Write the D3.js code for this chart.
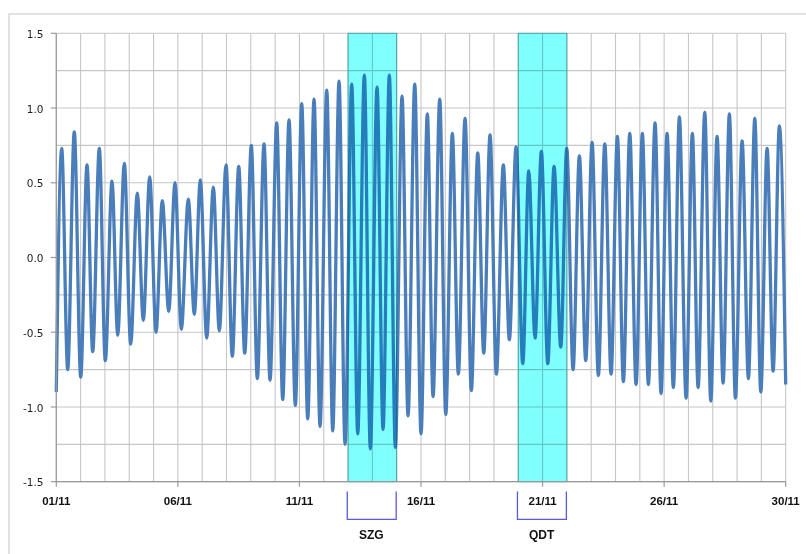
<!DOCTYPE html>
<html>
<head>
<meta charset="utf-8">
<script src="https://cdn.jsdelivr.net/npm/d3@7"></script>
<style>
  html, body { margin: 0; padding: 0; background: #ffffff; }
  svg { display: block; }
</style>
</head>
<body>
<svg id="chart" width="806" height="554"></svg>
<script>
// Water level (m) over November: days are counted from 01/11 00:00.
const xTickDays = [0, 5, 10, 15, 20, 25, 30];
const xTickLabels = ["01/11", "06/11", "11/11", "16/11", "21/11", "26/11", "30/11"];
const yTickValues = [-1.5, -1.0, -0.5, 0.0, 0.5, 1.0, 1.5];
const yTickLabels = ["-1.5", "-1.0", "-0.5", "0.0", "0.5", "1.0", "1.5"];

// Series start and end readings
const edgeDays = [0, 30];
const edgeLevels = [-0.90, -0.85];

// High waters
const highDays = [
  0.222, 0.740, 1.263, 1.769, 2.291, 2.797, 3.332, 3.842, 4.360, 4.883,
  5.430, 5.924, 6.458, 6.981, 7.503, 8.021, 8.544, 9.066, 9.572, 10.095,
  10.601, 11.123, 11.629, 12.151, 12.670, 13.192, 13.698, 14.220, 14.743, 15.261,
  15.771, 16.289, 16.812, 17.334, 17.840, 18.387, 18.910, 19.432, 19.951, 20.473,
  20.995, 21.514, 22.036, 22.559, 23.077, 23.587, 24.105, 24.628, 25.121, 25.627,
  26.162, 26.672, 27.178, 27.684, 28.207, 28.729, 29.235, 29.741
];
const highLevels = [
  0.73, 0.84, 0.62, 0.73, 0.51, 0.63, 0.43, 0.54, 0.38, 0.50,
  0.39, 0.52, 0.47, 0.62, 0.61, 0.75, 0.76, 0.90, 0.92, 1.03,
  1.06, 1.12, 1.18, 1.16, 1.22, 1.14, 1.22, 1.08, 1.16, 0.96,
  1.06, 0.83, 0.93, 0.70, 0.82, 0.62, 0.74, 0.58, 0.71, 0.61,
  0.73, 0.68, 0.77, 0.76, 0.81, 0.83, 0.83, 0.90, 0.83, 0.94,
  0.83, 0.97, 0.81, 0.96, 0.78, 0.93, 0.73, 0.88
];

// Low waters
const lowDays = [
  0.469, 1.004, 1.497, 2.016, 2.526, 3.060, 3.579, 4.101, 4.624, 5.142,
  5.677, 6.187, 6.705, 7.240, 7.750, 8.268, 8.791, 9.313, 9.831, 10.341,
  10.847, 11.370, 11.876, 12.398, 12.916, 13.439, 13.945, 14.467, 15.002, 15.496,
  16.018, 16.536, 17.071, 17.581, 18.100, 18.634, 19.186, 19.692, 20.214, 20.749,
  21.255, 21.777, 22.295, 22.818, 23.324, 23.846, 24.352, 24.874, 25.380, 25.903,
  26.397, 26.919, 27.425, 27.931, 28.466, 28.976, 29.482
];
const lowLevels = [
  -0.75, -0.80, -0.63, -0.69, -0.52, -0.58, -0.42, -0.50, -0.36, -0.48,
  -0.38, -0.54, -0.49, -0.66, -0.64, -0.81, -0.82, -0.95, -0.99, -1.08,
  -1.13, -1.16, -1.25, -1.18, -1.28, -1.15, -1.27, -1.06, -1.18, -0.93,
  -1.05, -0.78, -0.89, -0.64, -0.78, -0.55, -0.71, -0.54, -0.71, -0.60,
  -0.75, -0.69, -0.79, -0.78, -0.83, -0.85, -0.85, -0.91, -0.87, -0.94,
  -0.87, -0.96, -0.84, -0.94, -0.81, -0.90, -0.76
];

// Highlighted periods
const bandNames = ["SZG", "QDT"];
const bandStartDays = [12, 19];
const bandEndDays = [14, 21];

const svg = d3.select("#chart");
const plotLeft = 56.3, plotRight = 785.7, plotTop = 33.3, plotBottom = 481.7;

const x = d3.scaleLinear().domain([0, 30]).range([plotLeft, plotRight]);
const y = d3.scaleLinear().domain([-1.5, 1.5]).range([plotBottom, plotTop]);

// Outer chart frame
svg.append("rect")
  .attr("x", 9).attr("y", 14)
  .attr("width", 830).attr("height", 600)
  .attr("fill", "none")
  .attr("stroke", "#d9d9d9")
  .attr("stroke-width", 1.5);

// Grid: one vertical line per day, horizontal every 0.25 m
const gridG = svg.append("g");
gridG.selectAll("line.v")
  .data(d3.range(0, 31))
  .join("line")
  .attr("class", "v")
  .attr("x1", d => x(d)).attr("x2", d => x(d))
  .attr("y1", plotTop).attr("y2", plotBottom)
  .attr("stroke", "#c6c6c6").attr("stroke-width", 1.1);
gridG.selectAll("line.h")
  .data(d3.range(-1.5, 1.51, 0.25))
  .join("line")
  .attr("class", "h")
  .attr("x1", plotLeft).attr("x2", plotRight)
  .attr("y1", d => y(d)).attr("y2", d => y(d))
  .attr("stroke", "#c6c6c6").attr("stroke-width", 1.1);

// Water level curve through the observed turning points
const series = [];
edgeDays.forEach((d, i) => series.push({ day: d, level: edgeLevels[i] }));
highDays.forEach((d, i) => series.push({ day: d, level: highLevels[i] }));
lowDays.forEach((d, i) => series.push({ day: d, level: lowLevels[i] }));
series.sort((a, b) => a.day - b.day);

const line = d3.line()
  .x(d => x(d.day))
  .y(d => y(d.level))
  .curve(d3.curveMonotoneX);

svg.append("path")
  .datum(series)
  .attr("d", line)
  .attr("fill", "none")
  .attr("stroke", "#4a7ebb")
  .attr("stroke-width", 3.3)
  .attr("stroke-linejoin", "round");

// Highlight bands, tinting whatever lies underneath
const bands = bandNames.map((n, i) => ({ name: n, start: bandStartDays[i], end: bandEndDays[i] }));
svg.append("g").selectAll("rect")
  .data(bands)
  .join("rect")
  .attr("x", d => x(d.start))
  .attr("y", plotTop)
  .attr("width", d => x(d.end) - x(d.start))
  .attr("height", plotBottom - plotTop)
  .attr("fill", "#80ffff")
  .attr("stroke", "#5cc8c8")
  .attr("stroke-width", 1)
  .style("mix-blend-mode", "multiply");

// Axis lines and ticks
const axisG = svg.append("g");
axisG.append("line")
  .attr("x1", plotLeft).attr("x2", plotLeft).attr("y1", plotTop).attr("y2", plotBottom)
  .attr("stroke", "#9a9a9a").attr("stroke-width", 1.2);
axisG.append("line")
  .attr("x1", plotLeft).attr("x2", plotRight).attr("y1", plotBottom).attr("y2", plotBottom)
  .attr("stroke", "#9a9a9a").attr("stroke-width", 1.2);
axisG.selectAll("line.yt")
  .data(yTickValues)
  .join("line")
  .attr("class", "yt")
  .attr("x1", plotLeft - 5.5).attr("x2", plotLeft)
  .attr("y1", d => y(d)).attr("y2", d => y(d))
  .attr("stroke", "#9a9a9a").attr("stroke-width", 1.2);
axisG.selectAll("line.xt")
  .data(xTickDays)
  .join("line")
  .attr("class", "xt")
  .attr("x1", d => x(d)).attr("x2", d => x(d))
  .attr("y1", plotBottom).attr("y2", plotBottom + 5)
  .attr("stroke", "#9a9a9a").attr("stroke-width", 1.2);

// Tick labels
svg.append("g").selectAll("text")
  .data(yTickValues)
  .join("text")
  .attr("x", 43.5)
  .attr("y", d => y(d) + 4.6)
  .attr("text-anchor", "end")
  .attr("font-family", "DejaVu Sans, Verdana, sans-serif")
  .attr("font-size", "10.5px")
  .attr("fill", "#222222")
  .text((d, i) => yTickLabels[i]);

svg.append("g").selectAll("text")
  .data(xTickDays)
  .join("text")
  .attr("x", d => x(d))
  .attr("y", 505)
  .attr("text-anchor", "middle")
  .attr("font-family", "Liberation Sans, Arial, sans-serif")
  .attr("font-weight", "bold")
  .attr("font-size", "11.5px")
  .attr("fill", "#111111")
  .text((d, i) => xTickLabels[i]);

// Brackets and names under the highlighted periods
const brG = svg.append("g");
brG.selectAll("path")
  .data(bands)
  .join("path")
  .attr("d", d => `M${x(d.start) - 0.8},491.5 V519.3 H${x(d.end) - 0.5} V491.5`)
  .attr("fill", "none")
  .attr("stroke", "#5a5adc")
  .attr("stroke-width", 1.3);
brG.selectAll("text")
  .data(bands)
  .join("text")
  .attr("x", d => (x(d.start) + x(d.end)) / 2 - 1)
  .attr("y", 538.5)
  .attr("text-anchor", "middle")
  .attr("font-family", "Liberation Sans, Arial, sans-serif")
  .attr("font-weight", "bold")
  .attr("font-size", "12px")
  .attr("fill", "#111111")
  .text(d => d.name);
</script>
</body>
</html>
